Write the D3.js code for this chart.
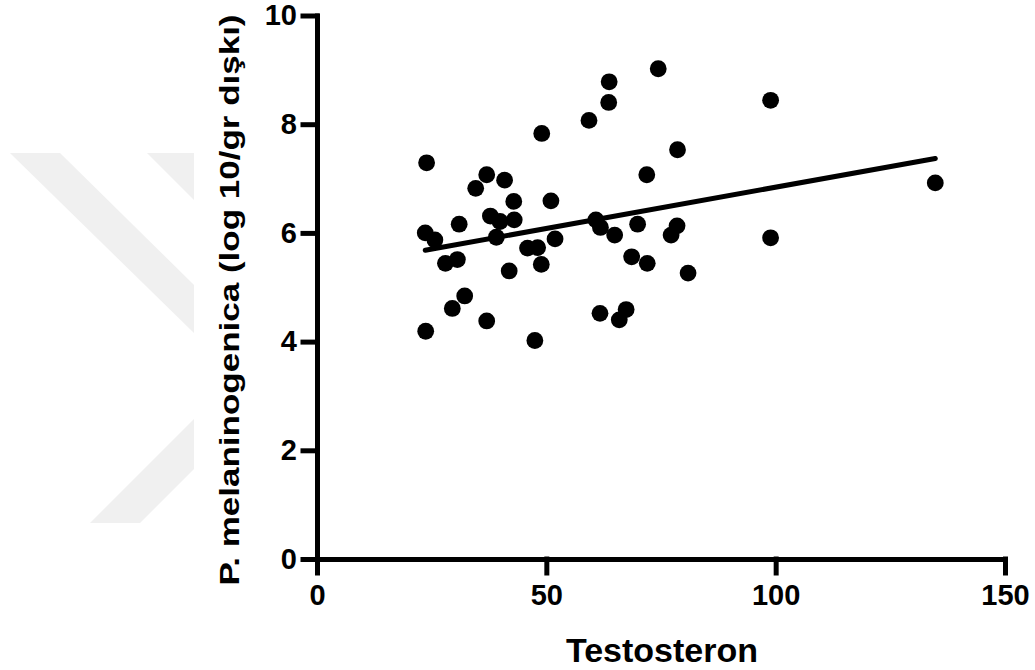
<!DOCTYPE html>
<html>
<head>
<meta charset="utf-8">
<script src="https://cdn.jsdelivr.net/npm/d3@7"></script>
<style>
  body { margin: 0; background: #fff; }
  text { font-family: Arial, "Liberation Sans", sans-serif; font-weight: bold; fill: #000; }
</style>
</head>
<body>
<svg id="chart" width="1035" height="670"></svg>
<script>
// Testosterone level vs. P. melaninogenica count (log10 / g stool)
const testosteron = [23.9, 23.6, 25.7, 31.0, 28.0, 30.6, 34.6, 37.0, 40.9, 42.9,
                     37.8, 39.9, 43.0, 39.1, 41.9, 32.2, 49.0, 51.0, 51.9, 45.9,
                     48.1, 48.9, 59.3, 63.7, 63.6, 74.4, 71.9, 60.8, 61.8, 64.9,
                     69.9, 68.6, 72.0, 23.7, 29.5, 37.0, 47.5, 61.7, 67.4, 65.9,
                     98.9, 78.6, 134.8, 78.5, 77.2, 98.9, 80.9];
const melaninogenica = [7.29, 6.00, 5.87, 6.16, 5.44, 5.51, 6.82, 7.07, 6.97, 6.58,
                        6.31, 6.21, 6.24, 5.92, 5.30, 4.84, 7.83, 6.59, 5.89, 5.72,
                        5.73, 5.42, 8.07, 8.78, 8.40, 9.02, 7.07, 6.24, 6.10, 5.96,
                        6.16, 5.56, 5.44, 4.19, 4.61, 4.38, 4.02, 4.52, 4.59, 4.40,
                        8.44, 7.53, 6.92, 6.13, 5.96, 5.91, 5.26];

// Linear regression line, end points
const fitX = [23.6, 134.8];
const fitY = [5.68, 7.37];

const xTicks = [0, 50, 100, 150];
const yTicks = [0, 2, 4, 6, 8, 10];

const svg = d3.select("#chart");

// faint background emblem on the left
const emblem = svg.append("g").attr("fill", "#f0f0f0");
emblem.append("polygon").attr("points", "10,153 60,153 194,285 194,333");
emblem.append("polygon").attr("points", "147,153 194,153 194,200");
emblem.append("polygon").attr("points", "90,523 140,523 194,469 194,419");

const x = d3.scaleLinear().domain([0, 150]).range([317, 1005]);
const y = d3.scaleLinear().domain([0, 10]).range([559, 15.5]);

function styleAxis(g) {
  g.select(".domain").attr("stroke", "#000").attr("stroke-width", 5).attr("stroke-linecap", "square");
  g.selectAll(".tick line").attr("stroke", "#000").attr("stroke-width", 5).attr("stroke-linecap", "square");
  g.selectAll(".tick text").style("font-size", "29px").style("font-weight", "bold")
    .style("font-family", "Arial, 'Liberation Sans', sans-serif").attr("fill", "#000");
}

svg.append("g")
  .attr("transform", `translate(0,${y(0)})`)
  .call(d3.axisBottom(x).tickValues(xTicks).tickSize(14).tickSizeOuter(0).tickPadding(11))
  .call(styleAxis);

svg.append("g")
  .attr("transform", `translate(${x(0)},0)`)
  .call(d3.axisLeft(y).tickValues(yTicks).tickSize(14).tickSizeOuter(0).tickPadding(6))
  .call(styleAxis);

// regression line
svg.append("line")
  .attr("x1", x(fitX[0])).attr("y1", y(fitY[0]))
  .attr("x2", x(fitX[1])).attr("y2", y(fitY[1]))
  .attr("stroke", "#000").attr("stroke-width", 5).attr("stroke-linecap", "round");

// data points
svg.append("g").selectAll("circle")
  .data(testosteron.map((t, i) => [t, melaninogenica[i]]))
  .join("circle")
  .attr("cx", d => x(d[0]))
  .attr("cy", d => y(d[1]))
  .attr("r", 8.4)
  .attr("fill", "#000");

// axis titles
svg.append("text")
  .attr("x", 662).attr("y", 662)
  .attr("text-anchor", "middle")
  .style("font-size", "34px")
  .text("Testosteron");

// y title: glyphs drawn elongated along the reading direction
svg.append("text")
  .attr("transform", "translate(239,300) rotate(-90) scale(1.25,1)")
  .attr("text-anchor", "middle")
  .style("font-size", "28px")
  .text("P. melaninogenica (log 10/gr dışkı)");
</script>
</body>
</html>
